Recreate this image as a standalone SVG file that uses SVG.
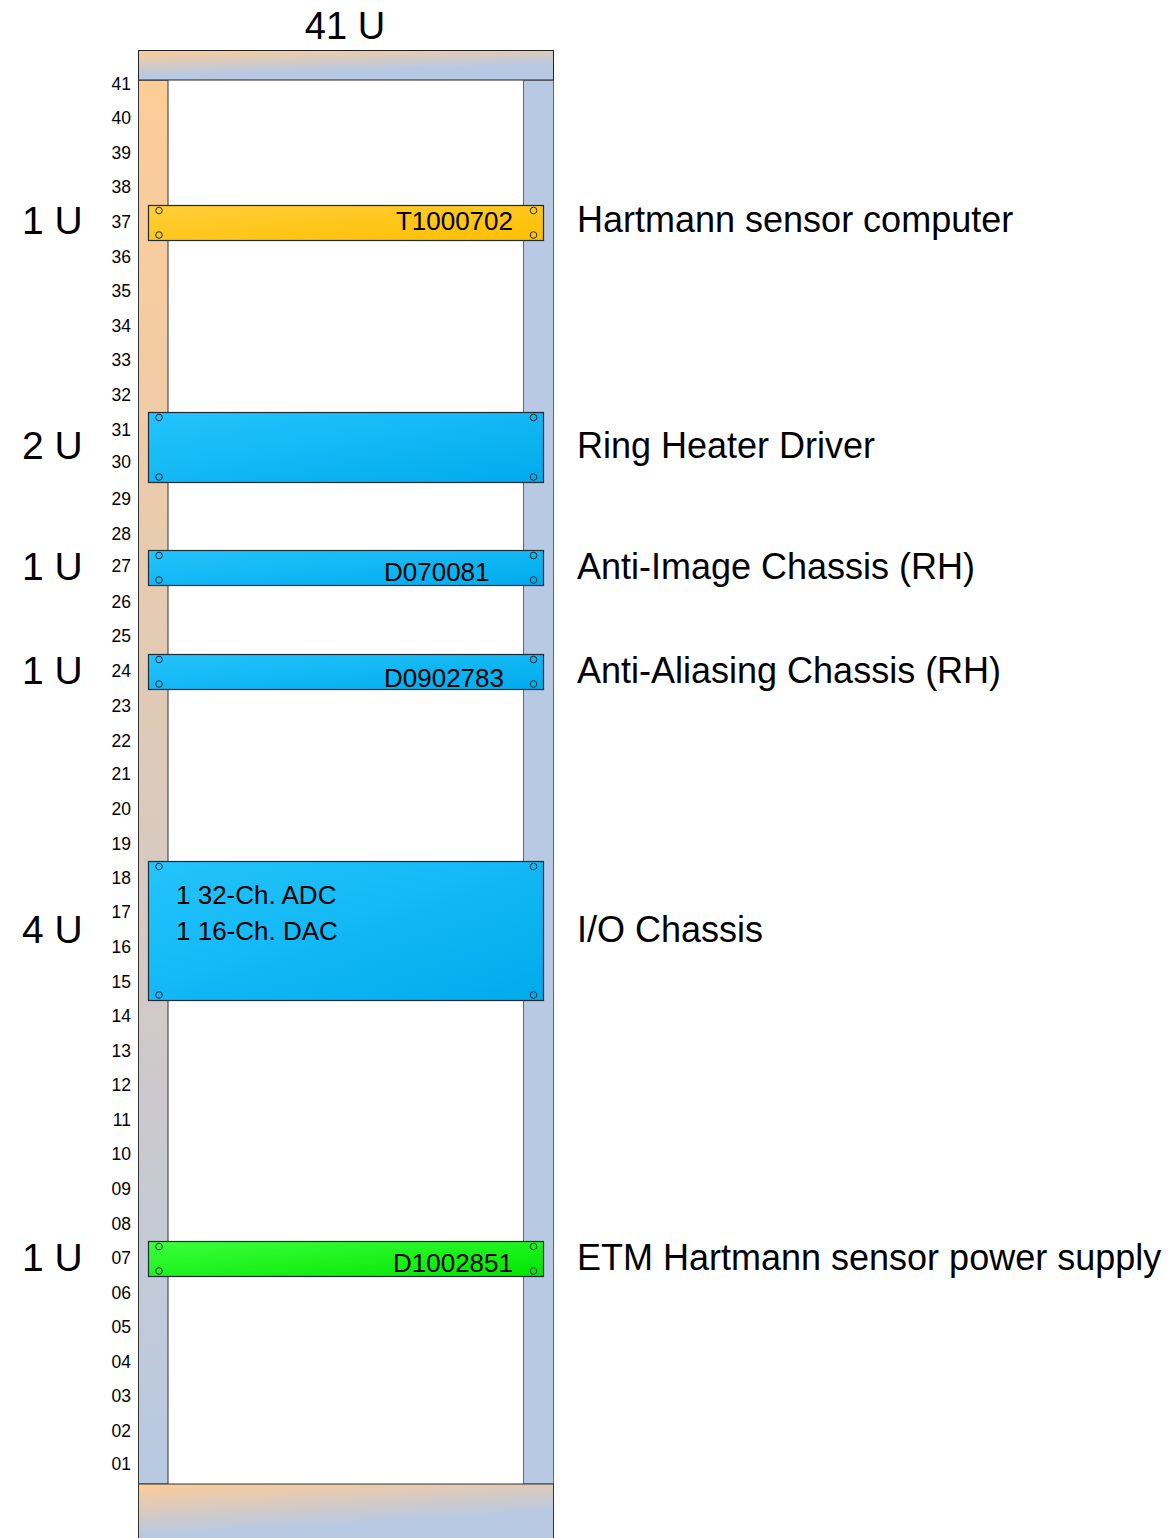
<svg xmlns="http://www.w3.org/2000/svg" width="1173" height="1538" viewBox="0 0 1173 1538">
<defs>
<linearGradient id="gBar" x1="0" y1="0" x2="0.4" y2="1">
<stop offset="0" stop-color="#fdcc98"/>
<stop offset="0.75" stop-color="#b8c9e3"/>
<stop offset="1" stop-color="#b8c9e3"/>
</linearGradient>
<linearGradient id="gRail" x1="0" y1="0" x2="0" y2="1">
<stop offset="0" stop-color="#fdcc98"/>
<stop offset="0.15" stop-color="#f6cca0"/>
<stop offset="0.5" stop-color="#dccabb"/>
<stop offset="1" stop-color="#b8c9e3"/>
</linearGradient>
<linearGradient id="gOrange" x1="0" y1="0" x2="1" y2="1">
<stop offset="0" stop-color="#ffcf3a"/>
<stop offset="1" stop-color="#ffbf00"/>
</linearGradient>
<linearGradient id="gBlue" x1="0" y1="0" x2="1" y2="1">
<stop offset="0" stop-color="#24c4fc"/>
<stop offset="1" stop-color="#00abec"/>
</linearGradient>
<linearGradient id="gGreen" x1="0" y1="0" x2="1" y2="1">
<stop offset="0" stop-color="#3cff3c"/>
<stop offset="1" stop-color="#00e600"/>
</linearGradient>
</defs>
<style>
text{font-family:"Liberation Sans",Arial,sans-serif;fill:#000}
.num{font-size:17.5px;text-anchor:end}
.u{font-size:38px}
.lu{font-size:39px}
.lbl{font-size:36px}
.pt{font-size:26px}
.panel{stroke:#1e2a36;stroke-width:1.2}
.screw{fill:none;stroke:#1e2a36;stroke-width:1}
</style>
<rect width="1173" height="1538" fill="#fff"/>
<g id="rack">
<rect x="168" y="80" width="356" height="1404" fill="#fff"/>
<rect x="138.5" y="80" width="29.5" height="1404" fill="url(#gRail)" stroke="#333" stroke-width="1"/>
<rect x="523.5" y="80" width="30" height="1404" fill="#b8c9e3" stroke="#666" stroke-width="1"/>
<rect x="138.5" y="50.5" width="415" height="29.5" fill="url(#gBar)" stroke="#222" stroke-width="1"/>
<rect x="138.5" y="1484" width="415" height="60" fill="url(#gBar)" stroke="#333" stroke-width="1"/>
<text x="345" y="39" class="u" text-anchor="middle">41 U</text>
</g>
<g id="unit-numbers">
<text class="num" x="131" y="89.5">41</text>
<text class="num" x="131" y="124">40</text>
<text class="num" x="131" y="158.5">39</text>
<text class="num" x="131" y="193">38</text>
<text class="num" x="131" y="228">37</text>
<text class="num" x="131" y="262.5">36</text>
<text class="num" x="131" y="297">35</text>
<text class="num" x="131" y="331.5">34</text>
<text class="num" x="131" y="366">33</text>
<text class="num" x="131" y="400.5">32</text>
<text class="num" x="131" y="435.5">31</text>
<text class="num" x="131" y="467.5">30</text>
<text class="num" x="131" y="504.5">29</text>
<text class="num" x="131" y="539.5">28</text>
<text class="num" x="131" y="572">27</text>
<text class="num" x="131" y="608">26</text>
<text class="num" x="131" y="642">25</text>
<text class="num" x="131" y="677">24</text>
<text class="num" x="131" y="712">23</text>
<text class="num" x="131" y="747">22</text>
<text class="num" x="131" y="780">21</text>
<text class="num" x="131" y="815">20</text>
<text class="num" x="131" y="850">19</text>
<text class="num" x="131" y="884">18</text>
<text class="num" x="131" y="918">17</text>
<text class="num" x="131" y="953">16</text>
<text class="num" x="131" y="988">15</text>
<text class="num" x="131" y="1022">14</text>
<text class="num" x="131" y="1057">13</text>
<text class="num" x="131" y="1091">12</text>
<text class="num" x="131" y="1126">11</text>
<text class="num" x="131" y="1160">10</text>
<text class="num" x="131" y="1195">09</text>
<text class="num" x="131" y="1230">08</text>
<text class="num" x="131" y="1264">07</text>
<text class="num" x="131" y="1299">06</text>
<text class="num" x="131" y="1333">05</text>
<text class="num" x="131" y="1368">04</text>
<text class="num" x="131" y="1402">03</text>
<text class="num" x="131" y="1437">02</text>
<text class="num" x="131" y="1470">01</text>
</g>
<g id="hartmann-computer">
<rect class="panel" x="148.5" y="205.5" width="395" height="35" fill="url(#gOrange)"/>
<circle class="screw" cx="159" cy="210.5" r="3.3"/><circle class="screw" cx="159" cy="235" r="3.3"/>
<circle class="screw" cx="533.5" cy="210.5" r="3.3"/><circle class="screw" cx="533.5" cy="235" r="3.3"/>
<text class="pt" x="513" y="230" text-anchor="end">T1000702</text>
<text class="lu" x="22" y="234">1 U</text>
<text class="lbl" x="577" y="232">Hartmann sensor computer</text>
</g>
<g id="ring-heater-driver">
<rect class="panel" x="148.5" y="412.5" width="395" height="70" fill="url(#gBlue)"/>
<circle class="screw" cx="159" cy="417.5" r="3.3"/><circle class="screw" cx="159" cy="477" r="3.3"/>
<circle class="screw" cx="533.5" cy="417.5" r="3.3"/><circle class="screw" cx="533.5" cy="477" r="3.3"/>
<text class="lu" x="22" y="459">2 U</text>
<text class="lbl" x="577" y="458">Ring Heater Driver</text>
</g>
<g id="anti-image">
<rect class="panel" x="148.5" y="550.5" width="395" height="35" fill="url(#gBlue)"/>
<circle class="screw" cx="159" cy="555.5" r="3.3"/><circle class="screw" cx="159" cy="580" r="3.3"/>
<circle class="screw" cx="533.5" cy="555.5" r="3.3"/><circle class="screw" cx="533.5" cy="580" r="3.3"/>
<text class="pt" x="384" y="581">D070081</text>
<text class="lu" x="22" y="580">1 U</text>
<text class="lbl" x="577" y="579">Anti-Image Chassis (RH)</text>
</g>
<g id="anti-aliasing">
<rect class="panel" x="148.5" y="654.5" width="395" height="35" fill="url(#gBlue)"/>
<circle class="screw" cx="159" cy="659.5" r="3.3"/><circle class="screw" cx="159" cy="684" r="3.3"/>
<circle class="screw" cx="533.5" cy="659.5" r="3.3"/><circle class="screw" cx="533.5" cy="684" r="3.3"/>
<text class="pt" x="384" y="687">D0902783</text>
<text class="lu" x="22" y="684">1 U</text>
<text class="lbl" x="577" y="683">Anti-Aliasing Chassis (RH)</text>
</g>
<g id="io-chassis">
<rect class="panel" x="148.5" y="861.5" width="395" height="139" fill="url(#gBlue)"/>
<circle class="screw" cx="159" cy="866.5" r="3.3"/><circle class="screw" cx="159" cy="995" r="3.3"/>
<circle class="screw" cx="533.5" cy="866.5" r="3.3"/><circle class="screw" cx="533.5" cy="995" r="3.3"/>
<text class="pt" x="176" y="904">1 32-Ch. ADC</text>
<text class="pt" x="176" y="940">1 16-Ch. DAC</text>
<text class="lu" x="22" y="943">4 U</text>
<text class="lbl" x="577" y="942">I/O Chassis</text>
</g>
<g id="etm-power-supply">
<rect class="panel" x="148.5" y="1241.5" width="395" height="35" fill="url(#gGreen)"/>
<circle class="screw" cx="159" cy="1246.5" r="3.3"/><circle class="screw" cx="159" cy="1271" r="3.3"/>
<circle class="screw" cx="533.5" cy="1246.5" r="3.3"/><circle class="screw" cx="533.5" cy="1271" r="3.3"/>
<text class="pt" x="513" y="1272" text-anchor="end">D1002851</text>
<text class="lu" x="22" y="1271">1 U</text>
<text class="lbl" x="577" y="1270">ETM Hartmann sensor power supply</text>
</g>
<g id="connectors"/>
</svg>
